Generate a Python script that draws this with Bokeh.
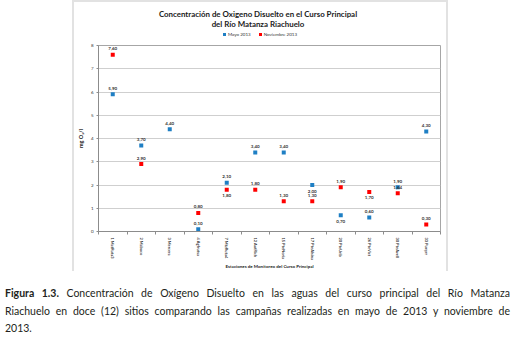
import math
import numpy as np
from bokeh.plotting import figure
from bokeh.models import FixedTicker, Spacer, Div, ColumnDataSource, Range1d
from bokeh.layouts import column, row
from bokeh.embed import file_html
from bokeh.resources import INLINE
from bokeh.core.properties import value

# ---------------- data ----------------
stations = ["1 MatRuta3", "2 Mabuco", "3 Mercera", "4 Agfrutsa", "7 MtzRuta4",
            "12 AutRich", "15 PteNoria", "17 PteAlsina", "20 PteUrib",
            "26 PteVict", "30 PteAvell", "33 Pueyrr"]
mayo = [5.90, 3.70, 4.40, 0.10, 2.10, 3.40, 3.40, 2.00, 0.70, 0.60, 1.90, 4.30]
noviembre = [7.60, 2.90, np.nan, 0.80, 1.80, 1.80, 1.30, 1.30, 1.90, 1.70, 1.64, 0.30]
y_ticks = [0, 1, 2, 3, 4, 5, 6, 7, 8]
series_names = ["Mayo 2013", "Noviembre 2013"]
title_lines = ["Concentración de Oxigeno Disuelto en el Curso Principal",
               "del Río Matanza Riachuelo"]

# label placement (style): +1 above the point, -1 below
mayo_side = [1, 1, 1, 1, 1, 1, 1, -1, -1, 1, 1, 1]
nov_side = [1, 1, 1, 1, -1, 1, 1, 1, 1, -1, 1, 1]

BLUE = "#1f7fc4"
RED = "#ff0000"
FONT = "Lato"

x = list(range(1, len(stations) + 1))

p = figure(width=372, height=229, x_range=Range1d(0.5, 12.5), y_range=Range1d(0, 8),
           output_backend="svg", toolbar_location=None,
           min_border_left=21, min_border_right=6, min_border_top=3, min_border_bottom=39)
p.outline_line_color = "#a6a6a6"
p.background_fill_color = "white"
p.border_fill_color = "white"
p.xgrid.visible = False
p.ygrid.grid_line_color = "#cfcfcf"
p.ygrid.ticker = FixedTicker(ticks=y_ticks)

# axes
p.yaxis.ticker = FixedTicker(ticks=y_ticks)
p.yaxis.axis_line_color = "#8c8c8c"
p.yaxis.major_tick_line_color = "#8c8c8c"
p.yaxis.major_tick_out = 2
p.yaxis.major_tick_in = 0
p.yaxis.minor_tick_line_color = None
p.yaxis.major_label_text_font = FONT
p.yaxis.major_label_text_font_size = "4.5px"
p.yaxis.major_label_text_color = "#333333"
p.yaxis.major_label_standoff = 3
p.yaxis.axis_label = "mg O\u2082/l"
p.yaxis.axis_label_text_font = FONT
p.yaxis.axis_label_text_font_size = "5.5px"
p.yaxis.axis_label_text_font_style = "bold"
p.yaxis.axis_label_text_color = "#222222"
p.yaxis.axis_label_standoff = 4

p.xaxis.ticker = FixedTicker(ticks=x, minor_ticks=[i + 0.5 for i in range(0, 13)])
p.xaxis.major_label_overrides = {i: s for i, s in zip(x, stations)}
p.xaxis.major_label_orientation = -math.pi / 2
p.xaxis.axis_line_color = "#8c8c8c"
p.xaxis.major_tick_out = 0
p.xaxis.major_tick_in = 0
p.xaxis.minor_tick_out = 3
p.xaxis.minor_tick_in = 0
p.xaxis.minor_tick_line_color = "#8c8c8c"
p.xaxis.major_label_text_font = FONT
p.xaxis.major_label_text_font_size = "4px"
p.xaxis.major_label_text_font_style = "bold"
p.xaxis.major_label_text_color = "#333333"
p.xaxis.major_label_standoff = 3
p.xaxis.axis_label = "Estaciones de Monitoreo del Curso Principal"
p.xaxis.axis_label_text_font = FONT
p.xaxis.axis_label_text_font_size = "4.5px"
p.xaxis.axis_label_text_font_style = "bold"
p.xaxis.axis_label_text_color = "#222222"
p.xaxis.axis_label_standoff = 1

# points
p.scatter(x, mayo, marker="square", size=4, fill_color=BLUE, line_color=None)
p.scatter(x, noviembre, marker="square", size=4, fill_color=RED, line_color=None)

def fmt(v):
    return f"{v:.2f}".replace(".", ",")

def labels(vals, sides):
    xs, ys, ts, offs = [], [], [], []
    for xi, v, s in zip(x, vals, sides):
        if v is None or (isinstance(v, float) and math.isnan(v)):
            continue
        xs.append(xi); ys.append(v); ts.append(fmt(v)); offs.append(-6 * s)
    return ColumnDataSource(dict(x=xs, y=ys, t=ts, o=offs))

for src in (labels(mayo, mayo_side), labels(noviembre, nov_side)):
    p.text("x", "y", text="t", y_offset="o", source=src, text_align="center",
           text_baseline="middle", text_font=value(FONT), text_font_size="4.5px",
           text_font_style="bold", text_color="#333333")

# title + legend block (HTML above the plot)
sq = 'display:inline-block; width:3px; height:3px; margin-right:2px; vertical-align:middle;'
head_html = (
    f'<div style="width:372px; text-align:center; font-family:{FONT}; color:#1a1a1a;">'
    f'<div style="font-size:7.9px; font-weight:bold; line-height:10px; padding-top:7px; '
    f'padding-right:4px;">{title_lines[0]}<br>{title_lines[1]}</div>'
    f'<div style="font-size:4.5px; line-height:6px; margin-top:3px; color:#333;">'
    f'<span style="{sq} background:{BLUE};"></span>{series_names[0]}'
    f'<span style="display:inline-block; width:8px;"></span>'
    f'<span style="{sq} background:{RED};"></span>{series_names[1]}</div>'
    '</div>'
)
head = Div(text=head_html, width=372, height=40, margin=(0, 0, 0, 0),
           styles={"background-color": "white"})

LINE = "#e2e2e2"
top_line = Div(width=376, height=2, margin=(0, 0, 0, 0), styles={"background-color": LINE})
vl = Div(width=2, height=269, margin=(0, 0, 0, 0), styles={"background-color": LINE})
vr = Div(width=2, height=269, margin=(0, 0, 0, 0), styles={"background-color": LINE})

line_style = ("display:block; white-space:nowrap; text-align:justify; "
              "text-align-last:justify;")
caption_html = (
    f'<div style="font-family:{FONT}; font-size:10.5px; color:#231f20; line-height:17.5px; '
    'width:510px; padding-left:5px; padding-top:14px;">'
    f'<span style="{line_style}"><b>Figura 1.3.</b> Concentración de Oxígeno Disuelto en las '
    'aguas del curso principal del Río Matanza</span>'
    f'<span style="{line_style}">Riachuelo en doce (12) sitios comparando las campañas '
    'realizadas en mayo de 2013 y noviembre de</span>'
    '<span style="display:block;">2013.</span>'
    '</div>'
)
caption = Div(text=caption_html, width=520, height=76, margin=(0, 0, 0, 0))

layout = column(
    row(Spacer(width=72, height=2, margin=(0, 0, 0, 0)), top_line, spacing=0),
    row(Spacer(width=72, height=269, margin=(0, 0, 0, 0)), vl,
        column(head, p, spacing=0), vr, spacing=0),
    caption,
    spacing=0,
)

open("out.html", "w").write(file_html(layout, INLINE))
